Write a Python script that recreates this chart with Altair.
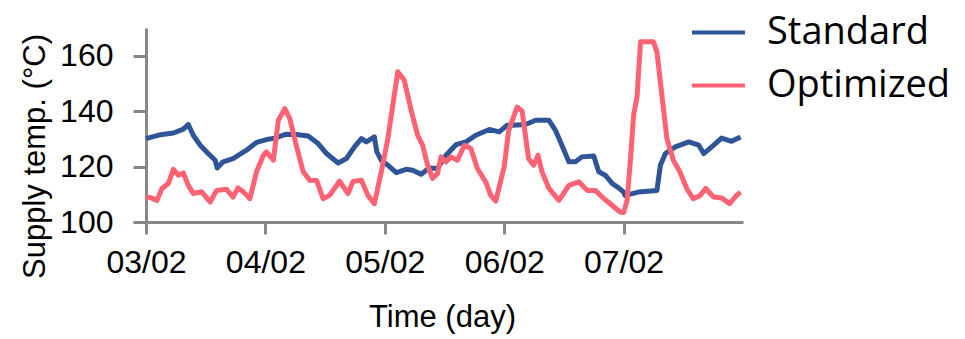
import altair as alt
import pandas as pd

# hours since 03/02 00:00
std_hours = [0, 2.9, 5.5, 7.5, 8.5, 9.5, 10.9, 12.5, 13.9, 14.3, 15.5, 17.5, 20.2, 22.2, 24.6,
             25.6, 28.2, 30.2, 32.6, 34.6, 36.3, 38.6, 40.3, 41.9, 43.3, 44.3, 45.9, 46.4, 47.3,
             48.6, 50.3, 52.3, 53.6, 55.3, 56.9, 58.6, 60.3, 62.3, 64.3, 66.3, 69.0, 71.0, 72.6,
             73.6, 76.3, 78.3, 81.0, 82.3, 83.6, 85.0, 86.3, 87.6, 90.0, 91.0, 92.3, 93.7, 95.0,
             96.0, 96.3, 99.0, 102.7, 103.4, 104.4, 106.4, 109.1, 111.1, 112.1, 113.7, 115.7,
             117.7, 119.5]
std_temp = [130.1, 131.5, 132.1, 133.5, 135.2, 131.3, 127.7, 124.7, 122.3, 119.5, 121.7, 122.9,
            125.9, 128.7, 129.9, 130.1, 131.7, 131.6, 131.0, 128.3, 124.7, 121.3, 122.9, 127.1,
            130.1, 128.9, 130.7, 125.3, 122.3, 120.5, 117.8, 119.0, 118.7, 117.2, 119.5, 119.3,
            124.1, 127.9, 128.9, 131.3, 133.4, 132.5, 134.9, 134.9, 135.2, 136.7, 136.7, 133.1,
            127.7, 121.7, 121.7, 123.5, 123.8, 118.1, 116.9, 113.9, 112.3, 110.8, 109.6, 110.8,
            111.4, 120.5, 124.7, 127.1, 128.9, 127.7, 124.7, 127.1, 130.3, 129.1, 130.7]

opt_hours = [0, 0.9, 2.2, 3.2, 4.5, 5.5, 6.5, 7.5, 8.5, 9.5, 11.2, 12.9, 14.2, 16.2, 17.5, 18.5,
             19.5, 20.9, 22.2, 23.6, 24.2, 25.6, 26.6, 27.9, 28.9, 30.2, 31.6, 32.9, 34.3, 35.6,
             36.9, 38.9, 40.6, 41.6, 43.3, 44.6, 45.9, 47.3, 48.6, 50.6, 51.9, 53.3, 54.6, 55.6,
             56.6, 57.6, 58.6, 59.3, 60.3, 61.3, 62.6, 64.0, 65.3, 66.6, 68.3, 69.3, 70.3, 72.0,
             72.9, 74.6, 75.6, 76.9, 77.9, 78.8, 79.6, 81.0, 83.0, 85.0, 87.0, 88.7, 90.3, 91.7,
             93.3, 95.3, 96.0, 96.7, 97.4, 98.0, 98.7, 99.4, 102.0, 102.7, 103.7, 104.7, 106.0,
             107.3, 108.7, 110.0, 111.4, 112.5, 114.1, 115.7, 117.3, 118.7, 119.5]
opt_temp = [109.0, 108.8, 107.8, 112.1, 113.9, 119.0, 116.9, 117.7, 113.2, 110.3, 110.9, 107.2,
            111.4, 111.8, 109.0, 112.3, 111.0, 108.4, 118.1, 124.1, 125.3, 122.3, 136.7, 140.9,
            137.3, 127.7, 118.1, 115.1, 115.0, 108.4, 109.6, 114.7, 110.3, 114.6, 115.1, 109.6,
            106.6, 118.1, 130.0, 154.2, 151.2, 140.3, 131.3, 127.7, 120.5, 115.7, 117.5, 123.5,
            121.7, 123.5, 122.3, 127.7, 126.5, 119.3, 114.4, 109.6, 107.5, 120.0, 133.0, 141.5,
            140.0, 122.9, 120.5, 124.1, 118.1, 112.1, 107.8, 113.2, 114.5, 111.4, 111.4, 109.0,
            106.6, 103.6, 103.4, 107.8, 122.9, 138.5, 145.1, 165.0, 165.0, 161.4, 145.7, 130.1,
            122.3, 118.1, 112.1, 108.4, 109.6, 112.1, 109.0, 108.7, 106.6, 109.6, 110.8]

series_names = ["Standard", "Optimized"]
series_colors = ["#2E5597", "#FF6272"]
tick_hours = [0, 24, 48, 72, 96]
tick_labels = ["03/02", "04/02", "05/02", "06/02", "07/02"]
y_ticks = [100, 120, 140, 160]

df = pd.concat([
    pd.DataFrame({"hours": std_hours, "temp": std_temp, "series": series_names[0], "ord": 0}),
    pd.DataFrame({"hours": opt_hours, "temp": opt_temp, "series": series_names[1], "ord": 1}),
], ignore_index=True)

axis_font = "Liberation Sans"
axis_gray = "#888888"

label_map = "{" + ",".join(f"'{h}':'{l}'" for h, l in zip(tick_hours, tick_labels)) + "}"

chart = alt.Chart(df).mark_line(strokeWidth=5, strokeJoin="round").encode(
    x=alt.X("hours:Q",
            scale=alt.Scale(domain=[0, 120], nice=False, zero=False),
            axis=alt.Axis(values=tick_hours, labelExpr=f"{label_map}[''+datum.value]",
                          title="Time (day)", grid=False,
                          domainColor=axis_gray, domainWidth=3,
                          tickColor=axis_gray, tickWidth=3, tickSize=12,
                          labelFont=axis_font, labelFontSize=32, labelColor="#000",
                          labelPadding=13, labelFlush=False,
                          titleFont=axis_font, titleFontSize=31, titleFontWeight="normal",
                          titleColor="#000", titleX=296, titleY=104,
                          titleBaseline="alphabetic")),
    y=alt.Y("temp:Q",
            scale=alt.Scale(domain=[100, 170], nice=False, zero=False),
            axis=alt.Axis(values=y_ticks, title="Supply temp. (°C)", grid=False,
                          domainColor=axis_gray, domainWidth=3,
                          tickColor=axis_gray, tickWidth=3, tickSize=13,
                          labelFont=axis_font, labelFontSize=32, labelColor="#000",
                          labelPadding=20,
                          titleFont=axis_font, titleFontSize=31, titleFontWeight="normal",
                          titleColor="#000", titleX=-111, titleY=128,
                          titleBaseline="middle", titleAlign="center", titleAngle=270)),
    color=alt.Color("series:N",
                    scale=alt.Scale(domain=series_names, range=series_colors),
                    legend=alt.Legend(orient="none", legendX=544, legendY=-24, title=None,
                                      symbolType="stroke", symbolSize=2809,
                                      symbolStrokeWidth=4, labelFont="Open Sans",
                                      labelFontSize=38, labelColor="#000", labelLimit=400,
                                      labelOffset=20, rowPadding=5)),
    order=alt.Order("ord:Q"),
).properties(
    width=597,
    height=194,
    autosize=alt.AutoSizeParams(type="none"),
    padding={"left": 138, "top": 20, "right": 212, "bottom": 113},
).configure_view(stroke=None)

chart.save("out.html", embed_options={"renderer": "svg", "actions": False})
